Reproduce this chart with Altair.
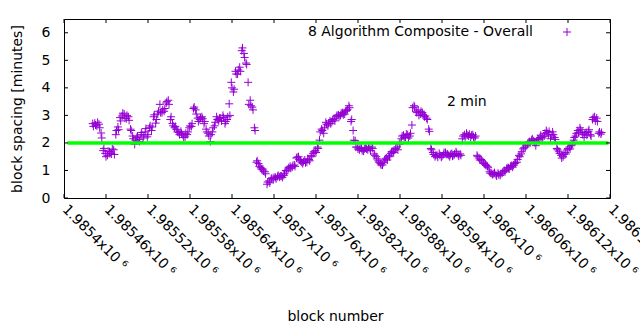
import json
import altair as alt
import pandas as pd

# ---- data ----
# readings on every third block
spacing = [
    2.70, 2.72, 2.62, 2.68, 2.36, 1.72, 1.62, 1.55, 1.68, 1.60, 1.75, 2.30,
    2.58, 2.92, 2.98, 3.05, 2.88, 2.95, 2.50, 2.25,
    1.95, 2.20, 2.12, 2.30, 2.18, 2.40, 2.22, 2.55,
    2.45, 2.95, 2.72, 3.05, 3.40, 3.10, 3.15, 3.45, 3.55,
    2.85, 2.70, 2.55, 2.48, 2.38, 2.42, 2.28,
    2.22, 2.30, 2.55, 2.60, 3.25, 3.20, 2.90,
    2.85, 2.95, 2.70, 2.50, 2.35, 2.05, 2.40, 2.62,
    2.95, 2.80, 2.90, 3.00, 2.70, 2.85, 3.42, 4.20, 3.85,
    4.60, 4.50, 4.75, 5.35, 5.25, 4.90, 4.20, 3.55, 3.30, 2.55,
    1.30, 1.25, 1.10, 1.05, 0.95,
    0.50, 0.62, 0.70, 0.68, 0.75, 0.78, 0.76, 0.80,
    0.82, 1.00, 1.05, 1.15, 1.12, 1.20, 1.45, 1.50,
    1.35, 1.25, 1.38, 1.30, 1.40, 1.55, 1.62,
    1.72, 1.85, 2.10, 2.50, 2.35, 2.75, 2.62, 2.80,
    2.78, 2.88, 2.95, 3.02, 3.00, 3.10, 3.05, 3.18, 3.35,
    2.78, 2.45, 2.08, 1.85, 1.75, 1.80, 1.70,
    1.82, 1.75, 1.80, 1.85, 1.60, 1.50, 1.35, 1.25, 1.20,
    1.38, 1.45, 1.55, 1.62, 1.70, 1.75, 1.85,
    1.95, 2.15, 2.28, 2.20, 2.30, 2.25, 2.65, 3.35,
    3.15, 3.20, 3.05, 3.10, 2.95, 2.90, 2.50,
    1.80, 1.65, 1.50, 1.55, 1.62, 1.48, 1.58, 1.65,
    1.60, 1.50, 1.62, 1.55, 1.68, 1.58, 1.60, 2.15,
    2.30, 2.35, 2.25, 2.20, 2.30, 2.18, 1.55, 1.45,
    1.40, 1.30, 1.22, 1.15, 0.95, 0.90, 0.88, 0.85,
    0.90, 0.82, 0.90, 1.00, 1.05, 1.10, 1.15, 1.12,
    1.25, 1.30, 1.55, 1.60, 1.78, 1.85, 1.95,
    2.05, 2.10, 2.08, 1.90, 2.15, 2.20, 2.18, 2.25, 2.45,
    2.30, 2.15, 2.40, 2.20, 1.80, 1.70, 1.55,
    1.50, 1.65, 1.75, 1.85, 1.90, 2.10, 2.25, 2.45, 2.55,
    2.40, 2.20, 2.38, 2.42, 2.30, 2.85, 2.95, 2.90, 2.35,
    2.32,
]
# readings on the block right after each of those
spacing_next = [
    2.60, 2.65, 2.75, 2.55, 2.18, 1.80, 1.50, 1.70, 1.62, 1.78, 1.58, 2.45,
    2.48, 2.80, 3.08, 2.90, 3.00, 2.82, 2.45, 2.15,
    2.10, 2.25, 2.05, 2.38, 2.25, 2.52, 2.30, 2.62,
    2.58, 3.02, 2.85, 3.15, 3.10, 3.20, 3.25, 3.50, 3.40,
    2.95, 2.62, 2.60, 2.40, 2.30, 2.35, 2.20,
    2.35, 2.40, 2.62, 2.70, 3.30, 3.05, 2.78,
    2.92, 2.88, 2.78, 2.40, 2.25, 2.30, 2.55, 2.75,
    2.85, 2.90, 2.80, 2.92, 2.78, 2.95, 3.00, 4.00, 3.95,
    4.50, 4.65, 4.60, 5.45, 5.10, 4.85, 3.40, 3.35, 3.20, 2.45,
    1.35, 1.15, 1.05, 0.98, 0.88,
    0.58, 0.55, 0.72, 0.75, 0.70, 0.82, 0.80, 0.75,
    0.88, 0.98, 1.10, 1.08, 1.18, 1.15, 1.48, 1.40,
    1.30, 1.32, 1.28, 1.42, 1.35, 1.50, 1.68,
    1.65, 1.80, 2.40, 2.45, 2.55, 2.68, 2.72, 2.70,
    2.85, 2.80, 3.00, 2.95, 3.08, 3.02, 3.15, 3.22, 3.28,
    2.85, 2.10, 1.85, 1.78, 1.82, 1.72, 1.78,
    1.78, 1.85, 1.72, 1.80, 1.55, 1.42, 1.30, 1.20, 1.28,
    1.42, 1.38, 1.50, 1.68, 1.65, 1.80, 1.75,
    2.00, 2.25, 2.20, 2.32, 2.18, 2.35, 3.28, 3.30,
    3.10, 3.00, 3.15, 3.02, 2.98, 2.85, 2.42,
    1.75, 1.58, 1.55, 1.48, 1.55, 1.52, 1.65, 1.58,
    1.55, 1.58, 1.52, 1.60, 1.62, 1.52, 1.55, 2.25,
    2.22, 2.28, 2.32, 2.28, 2.22, 2.25, 1.50, 1.38,
    1.35, 1.25, 1.18, 1.10, 0.90, 0.85, 0.92, 0.80,
    0.85, 0.88, 0.95, 0.95, 1.10, 1.05, 1.18, 1.20,
    1.28, 1.40, 1.50, 1.68, 1.82, 1.92, 2.00,
    2.00, 2.15, 2.02, 2.05, 2.12, 2.28, 2.22, 2.35, 2.38,
    2.42, 2.25, 2.30, 2.12, 1.75, 1.62, 1.45,
    1.58, 1.60, 1.80, 1.78, 1.95, 2.20, 2.35, 2.38, 2.48,
    2.30, 2.35, 2.28, 2.48, 2.25, 2.92, 2.80, 2.78, 2.40,
    2.38,
]
blocks = list(range(1985441, 1985441 + 3 * len(spacing), 3))
blocks_next = [b + 1 for b in blocks]

xtick_values = [1985400, 1985460, 1985520, 1985580, 1985640, 1985700, 1985760,
                1985820, 1985880, 1985940, 1986000, 1986060, 1986120, 1986180]
xtick_labels = ["1.9854x10 ⁶", "1.98546x10 ⁶", "1.98552x10 ⁶", "1.98558x10 ⁶",
                "1.98564x10 ⁶", "1.9857x10 ⁶", "1.98576x10 ⁶", "1.98582x10 ⁶",
                "1.98588x10 ⁶", "1.98594x10 ⁶", "1.986x10 ⁶", "1.98606x10 ⁶",
                "1.98612x10 ⁶", "1.98618x10 ⁶"]
ytick_values = [0, 1, 2, 3, 4, 5, 6]

target_minutes = [2.0]
target_from = [1985405]
target_to = [1986178]
note_block = [1985947]
note_minutes = [3.5]
note_text = ["2 min"]
legend_text = ["8 Algorithm Composite - Overall"]

# ---- styling ----
W, H = 546, 179
FONT = "DejaVu Sans"
FS = 14
PURPLE = "#9400d3"
PLUS = "M-1,0L1,0M0,-1L0,1"

xscale = alt.Scale(domain=[1985400, 1986180], nice=False, zero=False)
yscale = alt.Scale(domain=[0, 6.5], nice=False, zero=False)

label_expr = (json.dumps(xtick_labels, ensure_ascii=False)
              + "[indexof(" + json.dumps(xtick_values) + ", datum.value)]")

xaxis = alt.Axis(values=xtick_values, labelExpr=label_expr, labelAngle=45,
                 labelAlign="left", labelBaseline="middle", labelPadding=9,
                 labelFlush=False, labelOverlap=False, ticks=False, domain=False,
                 grid=False, labelFont=FONT, labelFontSize=FS, labelColor="black",
                 title="block number", titleFont=FONT, titleFontSize=FS,
                 titleFontWeight="normal", titleColor="black",
                 titleX=W / 2 - 2, titleY=122, titleBaseline="alphabetic",
                 titleAlign="center")
yaxis = alt.Axis(values=ytick_values, format="d", ticks=False, domain=False,
                 grid=False, labelPadding=14, labelFont=FONT, labelFontSize=FS,
                 labelColor="black", title="block spacing [minutes]",
                 titleFont=FONT, titleFontSize=FS, titleFontWeight="normal",
                 titleColor="black", titleAngle=270, titleX=-43, titleY=H / 2,
                 titleBaseline="alphabetic", titleAlign="center")

X = lambda f: alt.X(f, scale=xscale, axis=xaxis)
Y = lambda f: alt.Y(f, scale=yscale, axis=yaxis)

df = pd.DataFrame({"block": blocks + blocks_next,
                   "minutes": spacing + spacing_next})

points = alt.Chart(df).mark_point(
    shape=PLUS, filled=False, strokeWidth=1, size=64, color=PURPLE, opacity=1
).encode(x=X("block:Q"), y=Y("minutes:Q"))

gdf = pd.DataFrame({"block": target_from, "x2": target_to, "minutes": target_minutes})
green = alt.Chart(gdf).mark_rule(color="#00ff00", strokeWidth=3.5).encode(
    x=X("block:Q"), x2="x2:Q", y=Y("minutes:Q"))

ndf = pd.DataFrame({"block": note_block, "minutes": note_minutes, "t": note_text})
note = alt.Chart(ndf).mark_text(
    align="left", baseline="middle", font=FONT, fontSize=FS, color="black"
).encode(x=X("block:Q"), y=Y("minutes:Q"), text="t:N")

ldf = pd.DataFrame({"t": legend_text})
legend_label = alt.Chart(ldf).mark_text(
    align="right", baseline="middle", font=FONT, fontSize=FS, color="black"
).encode(x=alt.value(469), y=alt.value(13), text="t:N")
legend_key = alt.Chart(ldf).mark_point(
    shape=PLUS, filled=False, strokeWidth=1, size=64, color=PURPLE, opacity=1
).encode(x=alt.value(503), y=alt.value(13))

xt = pd.DataFrame({"block": xtick_values})
yt = pd.DataFrame({"minutes": ytick_values})
TL = 4
xt_bottom = alt.Chart(xt).mark_rule(color="black", strokeWidth=1).encode(
    x=X("block:Q"), y=alt.value(H), y2=alt.value(H - TL))
xt_top = alt.Chart(xt).mark_rule(color="black", strokeWidth=1).encode(
    x=X("block:Q"), y=alt.value(0), y2=alt.value(TL))
yt_left = alt.Chart(yt).mark_rule(color="black", strokeWidth=1).encode(
    y=Y("minutes:Q"), x=alt.value(0), x2=alt.value(TL))
yt_right = alt.Chart(yt).mark_rule(color="black", strokeWidth=1).encode(
    y=Y("minutes:Q"), x=alt.value(W), x2=alt.value(W - TL))

chart = alt.layer(
    points, green, note, legend_label, legend_key,
    xt_bottom, xt_top, yt_left, yt_right,
).properties(
    width=W, height=H,
    padding={"left": 64, "top": 19, "right": 30, "bottom": 132},
    autosize=alt.AutoSizeParams(type="none"),
    background="white",
).configure_view(stroke="black", strokeWidth=1)

chart.save("out.html", embed_options={"renderer": "svg", "actions": False})
